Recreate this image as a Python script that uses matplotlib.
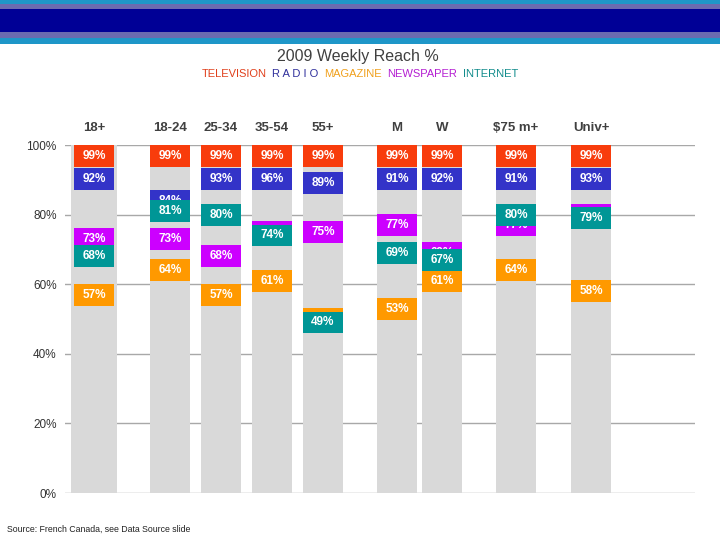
#!/usr/bin/env python3
"""2009 Weekly Reach % by demographic, one grey column per group with a
coloured value box for each medium."""

import matplotlib
matplotlib.use('Agg')
import matplotlib.pyplot as plt
from matplotlib.patches import Rectangle
from matplotlib.offsetbox import TextArea, HPacker, AnnotationBbox

plt.rcParams['font.family'] = ['Liberation Sans', 'DejaVu Sans']

# ---- data -----------------------------------------------------------------
groups = ['18+', '18-24', '25-34', '35-54', '55+', 'M', 'W', '$75 m+', 'Univ+']
media = ['TELEVISION', 'R A D I O', 'MAGAZINE', 'NEWSPAPER', 'INTERNET']

television = [99, 99, 99, 99, 99, 99, 99, 99, 99]
radio      = [92, 84, 93, 96, 89, 91, 92, 91, 93]
magazine   = [57, 64, 57, 61, 50, 53, 61, 64, 58]
newspaper  = [73, 73, 68, 75, 75, 77, 69, 77, 80]
internet   = [68, 81, 80, 74, 49, 69, 67, 80, 79]

yticks = [0, 20, 40, 60, 80, 100]

# ---- layout / style -------------------------------------------------------
MEDIA_COLORS = ['#f83c0c', '#3333c8', '#ff9900', '#cc00ff', '#009696']
LEGEND_COLORS = ['#e0401c', '#30309c', '#f0a01c', '#b41ed2', '#128c8c']
col_x = [94, 170, 221, 272, 323, 397, 442, 516, 591]      # column centres (px)
col_w = [46, 40, 40, 40, 40, 40, 40, 40, 40]
BOX_W = 40
BOX_H = 6.3            # box height in % units
TEXT_DARK = '#404040'

fig = plt.figure(figsize=(7.2, 5.4), dpi=100)

# header band
band = fig.add_axes([0, 1 - 44 / 540, 1, 44 / 540])
band.set_xlim(0, 1)
band.set_ylim(44, 0)
band.axis('off')
for y0, y1, c in [(0, 3.5, '#1e96c8'), (3.5, 9, '#6b6bb0'), (9, 32, '#000096'),
                  (32, 38, '#6b6bb0'), (38, 44, '#1e96c8')]:
    band.add_patch(Rectangle((0, y0), 1, y1 - y0, color=c, lw=0))

fig.text(0.497, 1 - 57 / 540, '2009 Weekly Reach %', ha='center', va='center',
         fontsize=11.5, color=TEXT_DARK)

parts = [TextArea(m, textprops=dict(color=c, fontsize=8))
         for m, c in zip(media, LEGEND_COLORS)]
pack = HPacker(children=parts, align='baseline', pad=0, sep=4)
fig.add_artist(AnnotationBbox(pack, (0.5, 1 - 74 / 540), xycoords='figure fraction',
                              frameon=False, box_alignment=(0.5, 0.5)))

ax = fig.add_axes([65 / 720, 1 - 493 / 540, 630 / 720, 348 / 540])
ax.set_xlim(65, 695)
ax.set_ylim(0, 100)

ax.set_yticks(yticks)
ax.set_yticklabels([f'{t}%' for t in yticks], fontsize=8.5, color='#333333')
ax.tick_params(axis='y', length=0, pad=6)
ax.set_xticks([])
ax.grid(axis='y', color='#a8a8a8', linewidth=1)
ax.set_axisbelow(True)
for s in ax.spines.values():
    s.set_visible(False)

ax.bar(col_x, [100] * len(groups), width=col_w, color='#d9d9d9', zorder=2)

for x, g in zip(col_x, groups):
    ax.text(x, 105, g, ha='center', va='center', fontsize=9.5,
            fontweight='bold', color=TEXT_DARK, clip_on=False)

# box centres: TV pinned under the 100% line, radio kept just below TV
series = [television, radio, magazine, newspaper, internet]
tv_centre = 100 - BOX_H / 2
radio_cap = tv_centre - BOX_H - 0.3
centres = []
for k, vals in enumerate(series):
    if k == 0:
        centres.append([min(v, tv_centre) for v in vals])
    elif k == 1:
        centres.append([min(v, radio_cap) for v in vals])
    else:
        centres.append(list(vals))

for k, (vals, color) in enumerate(zip(series, MEDIA_COLORS)):
    for i, (x, v) in enumerate(zip(col_x, vals)):
        c = centres[k][i]
        ax.add_patch(Rectangle((x - BOX_W / 2, c - BOX_H / 2), BOX_W, BOX_H,
                               facecolor=color, edgecolor='none', zorder=3 + k))
        # a box almost fully covered by a later one shows no label
        covered = any(abs(centres[j][i] - c) <= 1.5 for j in range(k + 1, len(series)))
        if not covered:
            ax.text(x, c, f'{v}%', ha='center', va='center', fontsize=8.5,
                    fontweight='bold', color='white', zorder=3 + k)

fig.text(7 / 720, 1 - 529 / 540, 'Source: French Canada, see Data Source slide',
         ha='left', va='center', fontsize=6.3, color='#222222')

fig.savefig('out.png', dpi=100)
